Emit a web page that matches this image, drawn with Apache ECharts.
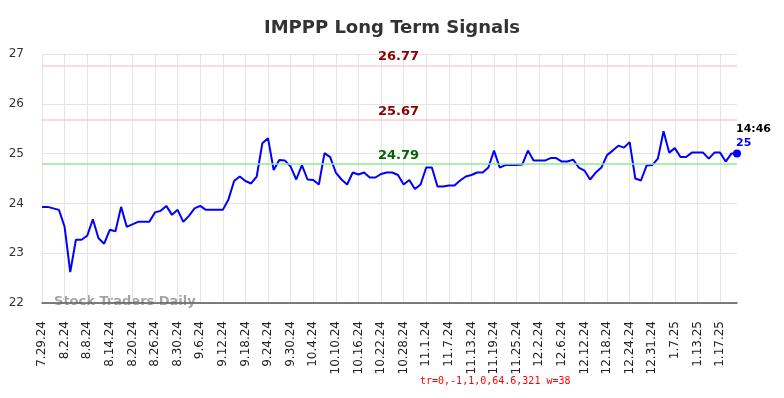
<!DOCTYPE html>
<html>
<head>
<meta charset="utf-8">
<script src="https://cdn.jsdelivr.net/npm/echarts@6/dist/echarts.min.js"></script>
<style>
  html, body { margin: 0; padding: 0; background: #fff; }
  #chart { width: 784px; height: 398px; }
  #dbg { position: absolute; left: 420px; top: 375px; font: 10px monospace; color: red; white-space: pre; }
</style>
</head>
<body>
<div id="chart"></div>
<div id="dbg"></div>
<script>
// trading days shown on the x axis
var dates = [
  '7.29.24','7.30.24','7.31.24','8.1.24','8.2.24','8.5.24','8.6.24','8.7.24','8.8.24','8.9.24',
  '8.12.24','8.13.24','8.14.24','8.15.24','8.16.24','8.19.24','8.20.24','8.21.24','8.22.24','8.23.24',
  '8.26.24','8.27.24','8.28.24','8.29.24','8.30.24','9.3.24','9.4.24','9.5.24','9.6.24','9.9.24',
  '9.10.24','9.11.24','9.12.24','9.13.24','9.16.24','9.17.24','9.18.24','9.19.24','9.20.24','9.23.24',
  '9.24.24','9.25.24','9.26.24','9.27.24','9.30.24','10.1.24','10.2.24','10.3.24','10.4.24','10.7.24',
  '10.8.24','10.9.24','10.10.24','10.11.24','10.14.24','10.15.24','10.16.24','10.17.24','10.18.24','10.21.24',
  '10.22.24','10.23.24','10.24.24','10.25.24','10.28.24','10.29.24','10.30.24','10.31.24','11.1.24','11.4.24',
  '11.5.24','11.6.24','11.7.24','11.8.24','11.11.24','11.12.24','11.13.24','11.14.24','11.15.24','11.18.24',
  '11.19.24','11.20.24','11.21.24','11.22.24','11.25.24','11.26.24','11.27.24','11.29.24','12.2.24','12.3.24',
  '12.4.24','12.5.24','12.6.24','12.9.24','12.10.24','12.11.24','12.12.24','12.13.24','12.16.24','12.17.24',
  '12.18.24','12.19.24','12.20.24','12.23.24','12.24.24','12.26.24','12.27.24','12.30.24','12.31.24','1.2.25',
  '1.3.25','1.6.25','1.7.25','1.8.25','1.9.25','1.10.25','1.13.25','1.14.25','1.15.25','1.16.25',
  '1.17.25','1.21.25','1.22.25','1.23.25'
];

// closing prices
var prices = [
  23.93,23.93,23.90,23.87,23.53,22.62,23.27,23.27,23.35,23.68,
  23.30,23.19,23.47,23.44,23.93,23.53,23.58,23.63,23.63,23.63,
  23.82,23.85,23.95,23.77,23.87,23.63,23.75,23.90,23.95,23.87,
  23.87,23.87,23.87,24.08,24.45,24.54,24.45,24.40,24.54,25.21,
  25.31,24.67,24.87,24.86,24.74,24.48,24.77,24.48,24.47,24.38,
  25.01,24.93,24.62,24.48,24.38,24.62,24.58,24.62,24.52,24.52,
  24.59,24.62,24.62,24.57,24.38,24.47,24.29,24.38,24.72,24.72,
  24.34,24.34,24.36,24.36,24.46,24.54,24.57,24.62,24.62,24.72,
  25.06,24.72,24.77,24.77,24.77,24.78,25.06,24.86,24.86,24.86,
  24.91,24.91,24.84,24.84,24.88,24.72,24.66,24.48,24.62,24.72,
  24.97,25.06,25.16,25.12,25.23,24.50,24.46,24.76,24.77,24.90,
  25.45,25.02,25.11,24.93,24.93,25.02,25.02,25.02,24.90,25.02,
  25.02,24.84,25.00,25.00
];

// signal levels
var redLevels = [26.77, 25.67];
var greenLevels = [24.79];
var yTicks = [22, 23, 24, 25, 26, 27];
var lastTime = '14:46';

var chart = echarts.init(document.getElementById('chart'));

var marks = [];
redLevels.forEach(function (v) {
  marks.push({
    yAxis: v,
    lineStyle: { color: '#ffcccc', width: 1.5, type: 'solid' },
    label: { color: '#8b0000' }
  });
});
greenLevels.forEach(function (v) {
  marks.push({
    yAxis: v,
    lineStyle: { color: '#90e890', width: 1.5, type: 'solid' },
    label: { color: '#006400' }
  });
});

var last = prices.length - 1;
var lineData = prices.map(function (v, i) {
  if (i === last) {
    return {
      value: v,
      symbol: 'circle',
      symbolSize: 8,
      label: {
        show: true,
        position: 'top',
        align: 'left',
        offset: [-1, 6],
        formatter: '{t|' + lastTime + '}\n{v|' + (+v.toFixed(2)) + '}',
        rich: {
          t: { color: '#000', fontWeight: 'bold', fontSize: 11, lineHeight: 14, fontFamily: 'DejaVu Sans' },
          v: { color: '#0000ff', fontWeight: 'bold', fontSize: 11, lineHeight: 14, fontFamily: 'DejaVu Sans' }
        }
      }
    };
  }
  return { value: v, symbol: 'none', symbolSize: 0 };
});

chart.setOption({
  backgroundColor: '#ffffff',
  animation: false,
  title: {
    text: 'IMPPP Long Term Signals',
    left: 'center',
    top: 14,
    textStyle: { fontSize: 18, fontWeight: 'bold', color: '#333', fontFamily: 'DejaVu Sans' }
  },
  graphic: [{
    type: 'text',
    left: 54,
    top: 295,
    style: {
      text: 'Stock Traders Daily',
      fill: '#999',
      opacity: 0.9,
      font: 'bold 13px "DejaVu Sans"'
    },
    z: 0
  }],
  grid: { left: 42, right: 47, top: 54, bottom: 95 },
  xAxis: {
    type: 'category',
    boundaryGap: false,
    data: dates,
    axisLine: { show: true, lineStyle: { color: '#555', width: 1.5 } },
    axisTick: { show: false },
    axisLabel: {
      interval: 3,
      rotate: 90,
      margin: 18,
      fontSize: 12,
      color: '#222',
      fontFamily: 'DejaVu Sans'
    },
    splitLine: { show: true, interval: 3, lineStyle: { color: '#e4e4e4', width: 1 } }
  },
  yAxis: {
    type: 'value',
    min: yTicks[0],
    max: yTicks[yTicks.length - 1],
    interval: 1,
    axisLine: { show: false },
    axisTick: { show: false },
    axisLabel: { fontSize: 12, color: '#333', margin: 18, fontFamily: 'DejaVu Sans' },
    splitLine: { show: true, lineStyle: { color: '#e4e4e4', width: 1 } }
  },
  series: [{
    type: 'line',
    data: lineData,
    showSymbol: true,
    showAllSymbol: true,
    clip: false,
    lineStyle: { color: '#0000ff', width: 2 },
    itemStyle: { color: '#0000ff' },
    markLine: {
      silent: true,
      symbol: 'none',
      label: {
        show: true,
        position: 'middle',
        distance: 2,
        offset: [9, 0],
        fontWeight: 'bold',
        fontSize: 13,
        fontFamily: 'DejaVu Sans',
        formatter: function (p) { return p.value.toFixed(2); }
      },
      data: marks
    },
    z: 3
  }]
});

// temporary check of the x label orientation
var info = 'none';
chart.getZr().storage.getDisplayList(true).forEach(function (el) {
  var t = el.style && el.style.text;
  if (info === 'none' && t === '8.2.24') {
    var r = el.getBoundingRect();
    info = 'tr=' + Array.from(el.transform || []).map(function (a) { return Math.round(a * 10) / 10; }).join(',') + ' w=' + Math.round(r.width);
  }
});
document.getElementById('dbg').textContent = info;
</script>
</body>
</html>
